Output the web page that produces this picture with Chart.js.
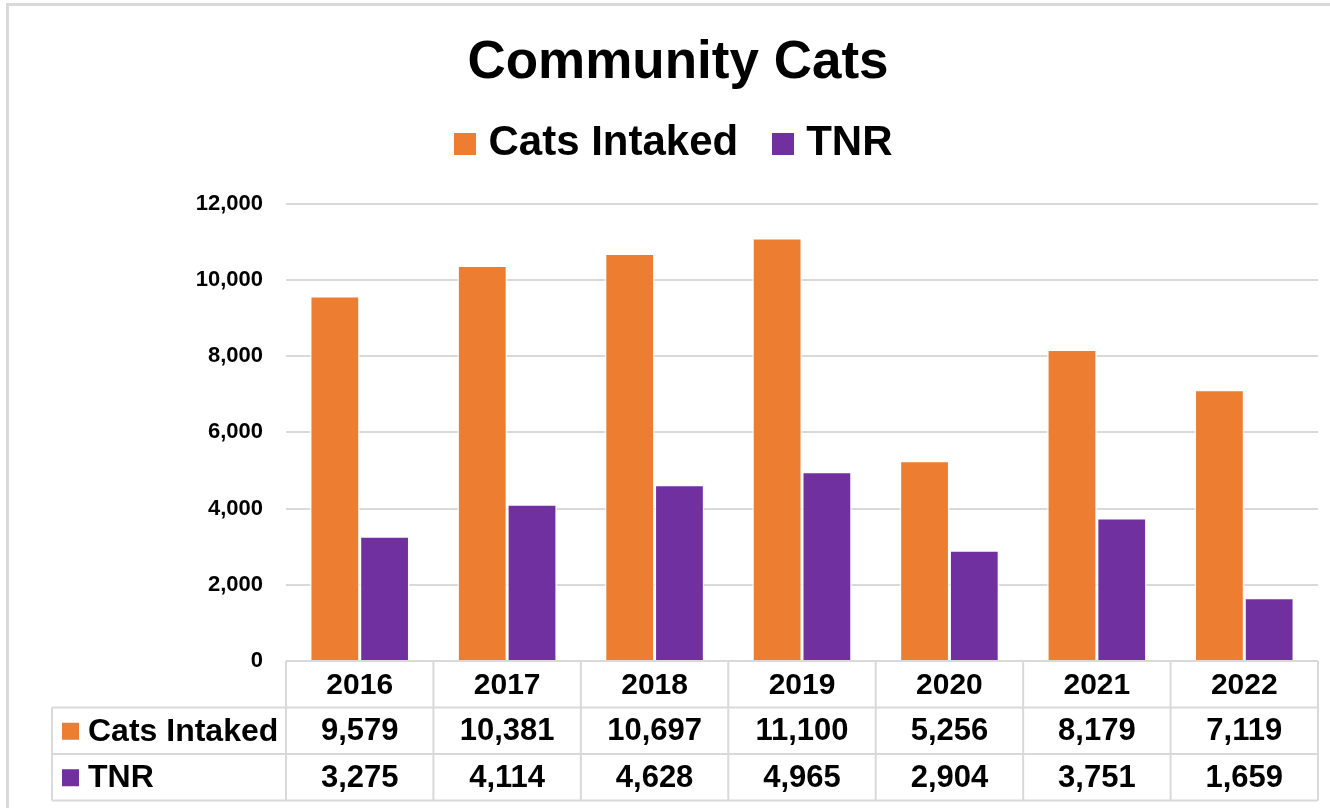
<!DOCTYPE html>
<html>
<head>
<meta charset="utf-8">
<script src="https://cdn.jsdelivr.net/npm/chart.js@4"></script>
<style>
  html, body { margin: 0; padding: 0; background: #fff; }
  #wrap { position: relative; width: 1330px; height: 808px; }
</style>
</head>
<body>
<div id="wrap"><canvas id="c" width="1330" height="808"></canvas></div>
<script>
const years = ['2016', '2017', '2018', '2019', '2020', '2021', '2022'];
const catsIntaked = [9579, 10381, 10697, 11100, 5256, 8179, 7119];
const tnr = [3275, 4114, 4628, 4965, 2904, 3751, 1659];
const yTicks = [0, 2000, 4000, 6000, 8000, 10000, 12000];

const FONT = "'Liberation Sans', Arial, sans-serif";
const ORANGE = '#ED7D31';
const PURPLE = '#7030A0';
const GRID = '#d9d9d9';

Chart.defaults.font.family = FONT;
Chart.defaults.color = '#000';

function legendSwatch(color) {
  const c = document.createElement('canvas');
  c.width = 22; c.height = 22;
  const g = c.getContext('2d');
  g.fillStyle = color;
  g.fillRect(0, 0, 22, 22);
  return c;
}
const swatches = [legendSwatch(ORANGE), legendSwatch(PURPLE)];

const framePlugin = {
  id: 'frame',
  beforeDraw(chart) {
    const ctx = chart.ctx;
    ctx.save();
    ctx.fillStyle = '#fff';
    ctx.fillRect(0, 0, chart.width, chart.height);
    ctx.fillStyle = GRID;
    ctx.fillRect(6, 3, chart.width - 6, 3);
    ctx.fillRect(6, 3, 3, chart.height - 3);
    ctx.restore();
  }
};

const tablePlugin = {
  id: 'dataTable',
  afterDraw(chart) {
    const ctx = chart.ctx;
    const area = chart.chartArea;
    const xs = chart.scales.x;
    const n = years.length;
    const colW = (area.right - area.left) / n;
    const labelLeft = 52;
    const rowH = 46.5;
    const r0 = area.bottom;
    const r1 = r0 + rowH, r2 = r1 + rowH, r3 = r2 + rowH;
    ctx.save();
    ctx.strokeStyle = GRID;
    ctx.lineWidth = 2;
    ctx.beginPath();
    ctx.moveTo(area.left, r0); ctx.lineTo(area.right, r0);
    [r1, r2, r3].forEach(y => { ctx.moveTo(labelLeft, y); ctx.lineTo(area.right, y); });
    for (let i = 0; i <= n; i++) {
      const x = area.left + i * colW;
      ctx.moveTo(x, r0); ctx.lineTo(x, r3);
    }
    ctx.moveTo(labelLeft, r1); ctx.lineTo(labelLeft, r3);
    ctx.stroke();

    ctx.fillStyle = '#000';
    ctx.textBaseline = 'middle';
    ctx.textAlign = 'center';
    ctx.font = 'bold 30px ' + FONT;
    years.forEach((y, i) => {
      const cx = xs.getPixelForValue(i);
      ctx.fillText(y, cx, (r0 + r1) / 2 + 1);
    });
    ctx.font = 'bold 31px ' + FONT;
    const rows = [
      { label: 'Cats Intaked', color: ORANGE, data: catsIntaked, y: (r1 + r2) / 2 + 1 },
      { label: 'TNR', color: PURPLE, data: tnr, y: (r2 + r3) / 2 + 1 }
    ];
    rows.forEach(row => {
      row.data.forEach((v, i) => {
        const cx = xs.getPixelForValue(i);
        ctx.fillText(v.toLocaleString('en-US'), cx, row.y);
      });
    });
    ctx.textAlign = 'left';
    ctx.font = 'bold 32px ' + FONT;
    rows.forEach(row => {
      ctx.fillStyle = row.color;
      ctx.fillRect(62, row.y - 9, 17, 17);
      ctx.fillStyle = '#000';
      ctx.fillText(row.label, 88, row.y);
    });
    ctx.restore();
  }
};

new Chart(document.getElementById('c'), {
  type: 'bar',
  data: {
    labels: years,
    datasets: [
      { label: 'Cats Intaked', data: catsIntaked, backgroundColor: ORANGE,
        borderColor: 'rgba(255,255,255,0.85)', borderWidth: 1.5, borderSkipped: 'bottom' },
      { label: 'TNR', data: tnr, backgroundColor: PURPLE,
        borderColor: 'rgba(255,255,255,0.85)', borderWidth: 1.5, borderSkipped: 'bottom' }
    ]
  },
  options: {
    responsive: false,
    devicePixelRatio: 1,
    animation: false,
    layout: { padding: { left: 38, right: 12, top: 0, bottom: 147 } },
    datasets: { bar: { categoryPercentage: 0.675, barPercentage: 1.0 } },
    plugins: {
      tooltip: { enabled: false },
      title: {
        display: true,
        text: 'Community Cats',
        color: '#000',
        font: { size: 53, weight: 'bold', lineHeight: 0.6 },
        padding: { top: 47, bottom: 1 }
      },
      subtitle: {
        display: true,
        text: '',
        weight: 500,
        font: { size: 1, lineHeight: 1 },
        padding: { top: 28, bottom: 0 }
      },
      legend: {
        display: true,
        position: 'top',
        labels: {
          usePointStyle: true,
          pointStyleWidth: 4,
          boxHeight: 22,
          padding: 43,
          color: '#000',
          font: { size: 42, weight: 'bold' },
          generateLabels(chart) {
            const items = Chart.defaults.plugins.legend.labels.generateLabels(chart);
            items.forEach((it, i) => { it.pointStyle = swatches[i]; });
            return items;
          }
        }
      }
    },
    scales: {
      x: { display: false },
      y: {
        min: 0,
        max: 12000,
        afterFit(scale) { scale.width = 248; },
        afterBuildTicks(scale) { scale.ticks = yTicks.map(v => ({ value: v })); },
        border: { display: false },
        grid: { color: GRID, lineWidth: 2, drawTicks: false },
        ticks: {
          padding: 23,
          color: '#000',
          font: { size: 22, weight: 'bold' },
          callback: v => Number(v).toLocaleString('en-US')
        }
      }
    }
  },
  plugins: [framePlugin, tablePlugin]
});
</script>
</body>
</html>
